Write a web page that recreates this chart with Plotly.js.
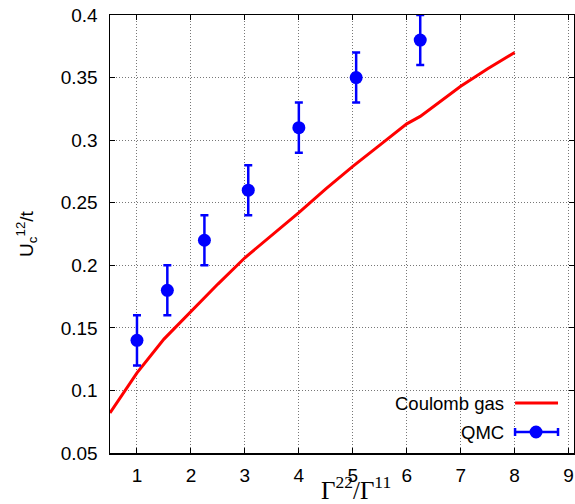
<!DOCTYPE html>
<html>
<head>
<meta charset="utf-8">
<script src="https://cdn.plot.ly/plotly-3.0.1.min.js"></script>
<style>html,body{margin:0;padding:0;background:#fff;}#chart{width:575px;height:504px;}</style>
</head>
<body>
<div id="chart"></div>
<script>
// Coulomb gas curve
const gasX = [0.5, 1, 1.5, 2, 2.5, 3, 3.5, 4, 4.5, 5, 5.5, 6, 6.25, 7, 7.5, 8];
const gasY = [0.082, 0.114, 0.141, 0.163, 0.185, 0.206, 0.224, 0.242, 0.261, 0.279, 0.296, 0.313, 0.319, 0.343, 0.357, 0.370];
// QMC points
const qmcX = [1, 1.5625, 2.25, 3.0625, 4, 5.0625, 6.25];
const qmcY = [0.14, 0.18, 0.22, 0.26, 0.31, 0.35, 0.38];
const qmcErr = [0.02, 0.02, 0.02, 0.02, 0.02, 0.02, 0.02];
// Tick labels
const xTicks = [1, 2, 3, 4, 5, 6, 7, 8, 9];
const yTicks = [0.05, 0.1, 0.15, 0.2, 0.25, 0.3, 0.35, 0.4];
const yTickText = ['0.05', '0.1', '0.15', '0.2', '0.25', '0.3', '0.35', '0.4'];
const legendNames = ['Coulomb gas', 'QMC'];

const RED = '#ff0000';
const BLUE = '#0000ff';
const FONT = 'Liberation Sans, Arial, sans-serif';

const traces = [
  {
    x: gasX, y: gasY, type: 'scatter', mode: 'lines', name: legendNames[0],
    line: {color: RED, width: 3}, showlegend: false
  },
  {
    x: qmcX, y: qmcY, type: 'scatter', mode: 'markers', name: legendNames[1],
    marker: {color: BLUE, size: 13, symbol: 'circle'},
    error_y: {type: 'data', array: qmcErr, visible: true, color: BLUE, thickness: 2.5, width: 4},
    showlegend: false
  }
];

// plot area: x 109.5..574, y 15..453
const PW = 464.5, PH = 438, PL = 109.5, PB = 453;
const px = v => (v - PL) / PW;
const py = v => (PB - v) / PH;

const shapes = [
  // opaque key box
  {type: 'rect', xref: 'paper', yref: 'paper', x0: px(291), x1: 1, y0: 0, y1: py(392),
   fillcolor: '#ffffff', line: {width: 0}, layer: 'between'},
  // Coulomb gas sample
  {type: 'line', xref: 'paper', yref: 'paper', x0: px(515), x1: px(558), y0: py(403), y1: py(403),
   line: {color: RED, width: 3}},
  // QMC sample
  {type: 'line', xref: 'paper', yref: 'paper', x0: px(515), x1: px(558), y0: py(432), y1: py(432),
   line: {color: BLUE, width: 2.5}},
  {type: 'line', xref: 'paper', yref: 'paper', x0: px(515), x1: px(515), y0: py(428), y1: py(436),
   line: {color: BLUE, width: 2.5}},
  {type: 'line', xref: 'paper', yref: 'paper', x0: px(558), x1: px(558), y0: py(428), y1: py(436),
   line: {color: BLUE, width: 2.5}},
  {type: 'circle', xref: 'paper', yref: 'paper', x0: px(529.5), x1: px(542.5), y0: py(438.5), y1: py(425.5),
   fillcolor: BLUE, line: {color: BLUE, width: 0}}
];

const annotations = [
  {xref: 'paper', yref: 'paper', x: px(506), y: py(403), xanchor: 'right', yanchor: 'middle',
   text: legendNames[0], showarrow: false, font: {family: FONT, size: 18.5, color: '#000'}},
  {xref: 'paper', yref: 'paper', x: px(506), y: py(432), xanchor: 'right', yanchor: 'middle',
   text: legendNames[1], showarrow: false, font: {family: FONT, size: 18.5, color: '#000'}},
  {xref: 'paper', yref: 'paper', x: px(356), y: py(488), xanchor: 'center', yanchor: 'middle',
   text: 'Γ<sup>22</sup>/Γ<sup>11</sup>', showarrow: false,
   font: {family: 'Liberation Serif, Times New Roman, serif', size: 25, color: '#000'}}
];

const gridStyle = {showgrid: true, gridcolor: '#777', griddash: '1px,2px', gridwidth: 1};

const layout = {
  width: 575, height: 504,
  margin: {l: 109.5, r: 1, t: 15, b: 51, pad: 0},
  paper_bgcolor: '#ffffff', plot_bgcolor: '#ffffff',
  showlegend: false,
  font: {family: FONT, size: 19, color: '#000'},
  xaxis: Object.assign({
    range: [0.5, 9.1], tickvals: xTicks, ticktext: xTicks.map(String),
    ticks: 'inside', ticklen: 5, tickcolor: '#000', tickwidth: 1,
    showline: true, linecolor: '#000', linewidth: 1.5, mirror: 'ticks',
    zeroline: false, ticklabelstandoff: 5,
    tickfont: {family: FONT, size: 19, color: '#000'}
  }, gridStyle),
  yaxis: Object.assign({
    range: [0.05, 0.4], tickvals: yTicks, ticktext: yTickText,
    ticks: 'inside', ticklen: 5, tickcolor: '#000', tickwidth: 1,
    showline: true, linecolor: '#000', linewidth: 1.5, mirror: 'ticks',
    zeroline: false, ticklabelstandoff: 7,
    tickfont: {family: FONT, size: 19, color: '#000'},
    title: {text: 'U<sub>c</sub><sup>12</sup>/t', font: {family: FONT, size: 19, color: '#000'}, standoff: 22}
  }, gridStyle),
  shapes: shapes,
  annotations: annotations
};

Plotly.newPlot('chart', traces, layout, {staticPlot: true, displayModeBar: false});
</script>
</body>
</html>
